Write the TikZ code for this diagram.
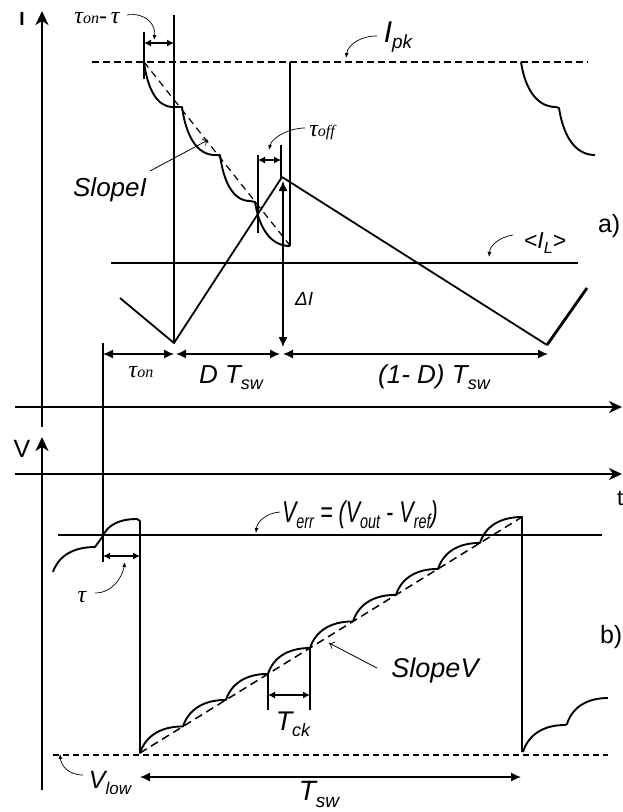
\documentclass[tikz,border=0pt]{standalone}
\usepackage{fontspec}
\setmainfont{Liberation Sans}
\newfontfamily\serifta{Liberation Serif}
\newfontfamily\narrowsf[FakeStretch=0.72]{Liberation Sans}
\usetikzlibrary{arrows.meta,calc}
\newcommand{\fs}[1]{\fontsize{#1}{#1}\selectfont}
\newcommand{\lsub}[3]{\raisebox{-#3}{\fontsize{#2}{#2}\selectfont #1}}
\newcommand{\tauch}{{\serifta\itshape\fs{24}τ}}
\newcommand{\tsub}[1]{{\serifta\itshape\fs{16}#1}}
\newcommand{\scal}[4]{.. controls ({#1+0.12*(#3-#1)},{#2+0.6*(#4-#2)}) and ({#1+0.45*(#3-#1)},{#4}) .. (#3,#4)}
\tikzset{
  vaxis/.style={line width=2.3pt, -{Stealth[length=14pt,width=13pt,inset=4pt]}},
  haxis/.style={line width=2pt, -{Stealth[length=13pt,width=12pt,inset=4pt]}},
  dim/.style={line width=1.3pt, {Latex[length=10pt,width=9pt]}-{Latex[length=10pt,width=9pt]}},
  dimsmall/.style={line width=1.1pt, {Latex[length=7pt,width=7pt]}-{Latex[length=7pt,width=7pt]}},
  pointer/.style={line width=0.7pt, -{Latex[length=5pt,width=4pt]}},
  slopeptr/.style={line width=0.8pt, -{To[length=5pt,width=8pt]}},
  wave/.style={line width=1.9pt, line join=round},
  ramp/.style={line width=1.8pt},
  vline/.style={line width=1.2pt},
  lbl/.style={inner sep=0pt, outer sep=0pt},
}
\begin{document}
\begin{tikzpicture}[x=1pt,y=-1pt]
\useasboundingbox (0,0) rectangle (623,812);

% ---------- axes ----------
\coordinate (Ibot) at (42,427); \coordinate (Itop) at (42,11);
\draw[vaxis] (Ibot) -- (Itop);
\coordinate (Vbot) at (42,790); \coordinate (Vtop) at (42,437);
\draw[vaxis] (Vbot) -- (Vtop);
\coordinate (h1l) at (15,407); \coordinate (h1r) at (622,407);
\draw[haxis] (h1l) -- (h1r);
\coordinate (h2l) at (15,474); \coordinate (h2r) at (622,474);
\draw[haxis] (h2l) -- (h2r);

\node[lbl, anchor=base] (Ilab) at (22,25) {\fs{19}\bfseries I};
\node[lbl, anchor=base] (Vlab) at (22,457) {\fs{25}V};
\node[lbl, anchor=base west] (tlab) at (617,505) {\fs{22}t};
\node[lbl, anchor=base west] (alab) at (598,232) {\fs{25}a)};
\node[lbl, anchor=base west] (blab) at (600,643) {\fs{25}b)};

% ---------- guide lines ----------
\coordinate (g1t) at (103,343); \coordinate (g1b) at (103,562);
\draw[vline] (g1t) -- (g1b);
\coordinate (g2t) at (174,15); \coordinate (g2b) at (174,343);
\draw[vline] (g2t) -- (g2b);
\coordinate (g3t) at (290,62); \coordinate (g3b) at (290,246);
\draw[line width=2.2pt] (g3t) -- (g3b);

% Ipk dashed
\coordinate (pkl) at (92,62); \coordinate (pkr) at (588,62);
\draw[line width=2pt, dash pattern=on 7pt off 4pt] (pkl) -- (pkr);
% <IL>
\coordinate (ILl) at (111,263); \coordinate (ILr) at (578,263);
\draw[line width=1.7pt] (ILl) -- (ILr);
% Verr
\coordinate (Vel) at (58,535); \coordinate (Ver) at (602,535);
\draw[line width=1.8pt] (Vel) -- (Ver);
% Vlow
\coordinate (Vll) at (53,755); \coordinate (Vlr) at (608,755);
\draw[line width=1.8pt, dash pattern=on 6pt off 4pt] (Vll) -- (Vlr);

% ---------- inductor current ramp ----------
\coordinate (r0) at (120,298); \coordinate (r1) at (174,343);
\coordinate (r2) at (282,177); \coordinate (r3) at (547,345);
\coordinate (r4) at (587,288);
\draw[ramp, line join=round] (r0) -- (r1) -- (r2) -- (r3);
\draw[line width=2.8pt] (r3) -- (r4);

% ---------- sensed current (SlopeI) ----------
\draw[wave] (144,62) \scal{144}{62}{173}{107} -- (182,107) \scal{182}{107}{215}{155}
  -- (220,155) \scal{220}{155}{250}{201} -- (255,202) \scal{255}{202}{290}{246};
\coordinate (sI0) at (144,62); \coordinate (sI1) at (292,248);
\draw[line width=1.2pt, dash pattern=on 7pt off 5pt] (sI0) -- (sI1);
\draw[wave] (521,62) \scal{521}{62}{556}{107} -- (559,108) \scal{559}{108}{595}{155};

% tau_on - tau
\coordinate (k1t) at (144,32); \coordinate (k1b) at (144,79);
\draw[vline] (k1t) -- (k1b);
\coordinate (d1a) at (144,43); \coordinate (d1b) at (174,43);
\draw[dimsmall] (d1a) -- (d1b);
\node[lbl, anchor=base] (tonmt) at (97,23) {\tauch\tsub{on}{\serifta\itshape\fs{24}-\,}\tauch};
\coordinate (p1s) at (127,15); \coordinate (p1e) at (154,40);
\draw[pointer] (p1s) .. controls (146,12) and (156,25) .. (p1e);

% Ipk label
\node[lbl, anchor=base] (Ipk) at (398,42) {\fs{30}\itshape I\lsub{pk}{19}{6pt}};
\coordinate (p2s) at (377,36); \coordinate (p2e) at (346,58);
\draw[pointer] (p2s) .. controls (360,36) and (348,45) .. (p2e);

% tau_off
\coordinate (k2t) at (258,155); \coordinate (k2b) at (258,233);
\draw[vline] (k2t) -- (k2b);
\coordinate (k3t) at (281,145); \coordinate (k3b) at (281,178);
\draw[vline] (k3t) -- (k3b);
\coordinate (d2a) at (258,160); \coordinate (d2b) at (281,160);
\draw[dimsmall] (d2a) -- (d2b);
\node[lbl, anchor=base] (toff) at (322,136) {\tauch\tsub{off}};
\coordinate (p3s) at (305,128); \coordinate (p3e) at (269,150);
\draw[pointer] (p3s) .. controls (290,128) and (272,137) .. (p3e);

% SlopeI
\node[lbl, anchor=base] (slI) at (110,196) {\fs{26}\itshape SlopeI};
\coordinate (p4s) at (150,171); \coordinate (p4e) at (208,140);
\draw[slopeptr] (p4s) -- (p4e);

% <IL>
\node[lbl, anchor=base] (ILlab) at (545,248) {\fs{23}\itshape <I\lsub{L}{16}{5pt}>};
\coordinate (p5s) at (513,235); \coordinate (p5e) at (489,257);
\draw[pointer] (p5s) .. controls (500,237) and (490,245) .. (p5e);

% Delta I
\coordinate (dIt) at (283,181); \coordinate (dIb) at (283,347);
\draw[dim] (dIt) -- (dIb);
\node[lbl, anchor=base west] (dIlab) at (295,305) {\fs{19}\itshape ΔI};

% time dimensions
\coordinate (t0) at (103,354); \coordinate (t1) at (174,354);
\coordinate (t2) at (176,354); \coordinate (t3) at (280,354);
\coordinate (t4) at (283,354); \coordinate (t5) at (548,354);
\draw[dim] (t0) -- (t1);
\draw[dim] (t2) -- (t3);
\draw[dim] (t4) -- (t5);
\node[lbl, anchor=base] (tonlab) at (141,377) {\tauch\tsub{on}};
\node[lbl, anchor=base] (DTlab) at (231,383) {\fs{26}\itshape D T\lsub{sw}{18}{6pt}};
\node[lbl, anchor=base] (oDTlab) at (434,383) {\fs{26}\itshape (1- D) T\lsub{sw}{18}{6pt}};

% ---------- error voltage / ramp ----------
\draw[wave] (53,572) \scal{53}{572}{95}{547} -- (103,536) \scal{103}{536}{137}{519}
  -- (140,521) -- (140,753)
  \scal{140}{753}{183}{726.4} \scal{183}{726.4}{226}{699.9} \scal{226}{699.9}{268}{673.9}
  \scal{268}{673.9}{310}{648} \scal{310}{648}{353}{621.4} \scal{353}{621.4}{396}{594.8}
  \scal{396}{594.8}{438}{568.9} \scal{438}{568.9}{480}{542.9} \scal{480}{542.9}{522}{517}
  -- (522,752);
\coordinate (sV0) at (140,753); \coordinate (sV1) at (522,517);
\draw[line width=1.5pt, dash pattern=on 8pt off 5pt] (sV0) -- (sV1);
\draw[wave] (523,752) \scal{523}{752}{565}{725} -- (567,724) \scal{567}{724}{608}{698};

% tau
\coordinate (d3a) at (103,556); \coordinate (d3b) at (140,556);
\draw[dimsmall] (d3a) -- (d3b);
\node[lbl, anchor=base] (taulab) at (82,602) {\tauch};
\coordinate (p6s) at (95,593); \coordinate (p6e) at (125,562);
\draw[pointer] (p6s) .. controls (112,593) and (122,578) .. (p6e);

% Verr label
\node[lbl, anchor=base west] (Verrlab) at (282,522) {\narrowsf\fs{30}\itshape V\lsub{err}{20}{6pt} = (V\lsub{out}{20}{6pt} - V\lsub{ref}{20}{6pt})};
\coordinate (p7s) at (280,512); \coordinate (p7e) at (256,533);
\draw[pointer] (p7s) .. controls (266,513) and (257,522) .. (p7e);

% SlopeV
\node[lbl, anchor=base] (slV) at (435,677) {\fs{27}\itshape SlopeV};
\coordinate (p8s) at (377,668); \coordinate (p8e) at (329,643);
\draw[slopeptr] (p8s) -- (p8e);

% Tck
\coordinate (k4t) at (268,674); \coordinate (k4b) at (268,710);
\draw[vline] (k4t) -- (k4b);
\coordinate (k5t) at (310,648); \coordinate (k5b) at (310,710);
\draw[vline] (k5t) -- (k5b);
\coordinate (d4a) at (268,695); \coordinate (d4b) at (310,695);
\draw[dimsmall] (d4a) -- (d4b);
\node[lbl, anchor=base] (Tcklab) at (293,730) {\fs{27}\itshape T\lsub{ck}{18}{6pt}};

% Vlow
\node[lbl, anchor=base] (Vlowlab) at (110,788) {\fs{25}\itshape V\lsub{low}{17}{6pt}};
\coordinate (p9s) at (83,775); \coordinate (p9e) at (60,754);
\draw[pointer] (p9s) .. controls (68,775) and (61,765) .. (p9e);

% Tsw
\coordinate (d5a) at (140,777); \coordinate (d5b) at (521,777);
\draw[dim] (d5a) -- (d5b);
\node[lbl, anchor=base] (Tswlab) at (319,800) {\fs{28}\itshape T\lsub{sw}{19}{7pt}};

\end{tikzpicture}
\end{document}
